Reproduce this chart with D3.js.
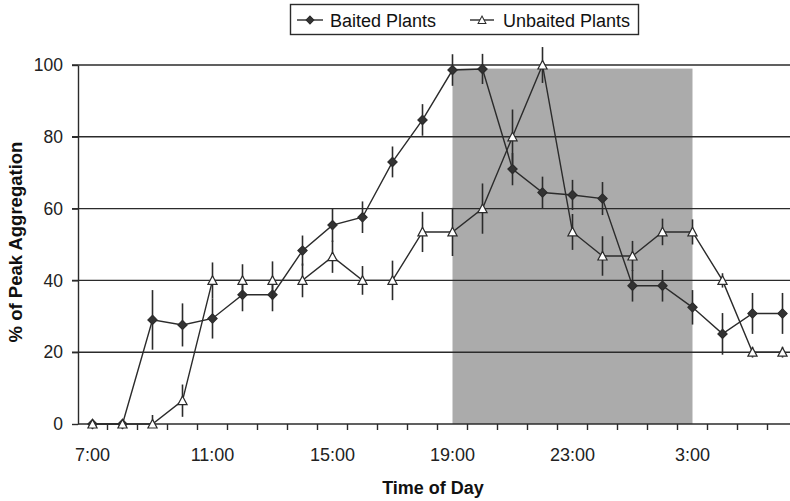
<!DOCTYPE html>
<html>
<head>
<meta charset="utf-8">
<script src="https://cdn.jsdelivr.net/npm/d3@7"></script>
<style>
  body { margin: 0; background: #fff; }
  svg { display: block; font-family: "Liberation Sans", Arial, sans-serif; }
</style>
</head>
<body>
<svg id="chart" width="790" height="501"></svg>
<script>
// categories (hour of day)
const times = ["7:00","8:00","9:00","10:00","11:00","12:00","13:00","14:00","15:00","16:00","17:00","18:00",
               "19:00","20:00","21:00","22:00","23:00","0:00","1:00","2:00","3:00","4:00","5:00","6:00"];
const tickLabels = ["7:00","11:00","15:00","19:00","23:00","3:00"];
const yTicks = [0, 20, 40, 60, 80, 100];

// % of peak aggregation, with standard error
const baited    = [0, 0, 29, 27.6, 29.4, 36, 36, 48.3, 55.4, 57.6, 73, 84.7, 98.6, 98.9, 71, 64.5, 63.8, 62.8, 38.5, 38.5, 32.5, 25.1, 30.8, 30.8];
const baitedErr = [0, 0, 8.3, 6, 5.6, 4.6, 4.6, 4.2, 4.7, 4.4, 4.3, 4.4, 4.4, 4.2, 4.5, 4.4, 4.2, 4.6, 4.4, 4.4, 4.8, 5.8, 5.7, 5.7];
const unbaited    = [0, 0, 0, 6.5, 40, 40, 40, 40, 46.6, 40, 40, 53.5, 53.5, 60, 80, 100, 53.5, 46.8, 46.8, 53.5, 53.5, 40, 20, 20];
const unbaitedErr = [0, 0, 2.5, 4.5, 5, 4.5, 5.3, 4.7, 4.5, 4, 5.5, 5.6, 6.7, 7, 7.6, 5, 5, 5.5, 4.2, 3.7, 3.5, 2, 1.5, 1.5];

// dark period (shaded)
const darkStart = "19:00", darkEnd = "3:00", darkTop = 99;

const svg = d3.select("#chart");
const ink = "#2b2b2b";

const x = d3.scaleBand().domain(times).range([77.5, 797.5]);
const cx = d => x(d) + x.bandwidth() / 2;
const y = d3.scaleLinear().domain([0, 100]).range([424, 65]);

// shaded night block
svg.append("rect")
    .attr("x", cx(darkStart))
    .attr("y", y(darkTop))
    .attr("width", cx(darkEnd) - cx(darkStart))
    .attr("height", y(0) - y(darkTop))
    .attr("fill", "#ababab");

// gridlines
svg.append("g").selectAll("line")
    .data(yTicks.filter(d => d > 0))
    .enter().append("line")
        .attr("x1", 72).attr("x2", 797.5)
        .attr("y1", d => y(d)).attr("y2", d => y(d))
        .attr("stroke", ink).attr("stroke-width", 1.4);

// y axis
const yAxis = svg.append("g")
    .attr("transform", "translate(78,0)")
    .call(d3.axisLeft(y).tickValues(yTicks).tickSize(6).tickPadding(9).tickSizeOuter(0));
yAxis.select(".domain").attr("stroke", ink).attr("stroke-width", 1.4);
yAxis.selectAll(".tick line").attr("stroke", ink).attr("stroke-width", 1.4);
yAxis.selectAll("text").attr("font-size", 17.5).attr("fill", "#222").style("font-family", "Liberation Sans, Arial, sans-serif");

// x axis: line, boundary ticks, labels
const xAxis = svg.append("g").attr("transform", "translate(0,424)");
xAxis.append("line").attr("x1", 78).attr("x2", 797.5).attr("stroke", ink).attr("stroke-width", 1.4);
xAxis.selectAll(".bound")
    .data(times.slice(1))
    .enter().append("line")
        .attr("class", "bound")
        .attr("x1", d => x(d)).attr("x2", d => x(d))
        .attr("y1", 0).attr("y2", 6)
        .attr("stroke", ink).attr("stroke-width", 1.4);
const xLabels = xAxis.append("g")
    .call(d3.axisBottom(x).tickValues(tickLabels).tickSize(0).tickPadding(24));
xLabels.select(".domain").remove();
xLabels.selectAll("text").attr("font-size", 18).attr("fill", "#222").style("font-family", "Liberation Sans, Arial, sans-serif");

// axis titles
svg.append("text")
    .attr("x", 433).attr("y", 494)
    .attr("text-anchor", "middle")
    .attr("font-size", 18).attr("font-weight", "bold").attr("fill", "#111")
    .text("Time of Day");
svg.append("text")
    .attr("transform", "translate(22,242) rotate(-90)")
    .attr("text-anchor", "middle")
    .attr("font-size", 18.5).attr("font-weight", "bold").attr("fill", "#111")
    .text("% of Peak Aggregation");

const diamond = "M0,-4.6L4.6,0L0,4.6L-4.6,0Z";
const triangle = "M0,-4.6L4.6,4L-4.6,4Z";

function drawSeries(vals, errs, shape, fill) {
    const g = svg.append("g");
    const pts = times.map((t, i) => ({t: t, v: vals[i], e: errs[i]}));
    g.selectAll(".err")
        .data(pts.filter(d => d.e > 0))
        .enter().append("line")
            .attr("x1", d => cx(d.t)).attr("x2", d => cx(d.t))
            .attr("y1", d => y(d.v + d.e)).attr("y2", d => y(Math.max(0, d.v - d.e)))
            .attr("stroke", ink).attr("stroke-width", 1.6);
    g.append("path")
        .datum(pts)
        .attr("fill", "none")
        .attr("stroke", ink).attr("stroke-width", 1.4)
        .attr("d", d3.line().x(d => cx(d.t)).y(d => y(d.v)));
    g.selectAll(".pt")
        .data(pts)
        .enter().append("path")
            .attr("transform", d => "translate(" + cx(d.t) + "," + y(d.v) + ")")
            .attr("d", shape)
            .attr("fill", fill).attr("stroke", ink).attr("stroke-width", 1.2);
}
drawSeries(baited, baitedErr, diamond, "#333");
drawSeries(unbaited, unbaitedErr, triangle, "#fff");

// legend
const legend = svg.append("g");
legend.append("rect")
    .attr("x", 290.5).attr("y", 4.5).attr("width", 348).attr("height", 30)
    .attr("fill", "#fff").attr("stroke", ink).attr("stroke-width", 1.4);
const legendItems = [
    {name: "Baited Plants", shape: diamond, fill: "#333", x0: 297, x1: 323, tx: 330},
    {name: "Unbaited Plants", shape: triangle, fill: "#fff", x0: 470, x1: 494, tx: 503}
];
const li = legend.selectAll(".item").data(legendItems).enter().append("g");
li.append("line")
    .attr("x1", d => d.x0).attr("x2", d => d.x1).attr("y1", 20).attr("y2", 20)
    .attr("stroke", ink).attr("stroke-width", 1.4);
li.append("path")
    .attr("transform", d => "translate(" + (d.x0 + d.x1) / 2 + ",20) scale(0.85)")
    .attr("d", d => d.shape)
    .attr("fill", d => d.fill).attr("stroke", ink).attr("stroke-width", 1.2);
li.append("text")
    .attr("x", d => d.tx).attr("y", 26.5)
    .attr("font-size", 18).attr("fill", "#111")
    .text(d => d.name);
</script>
</body>
</html>
